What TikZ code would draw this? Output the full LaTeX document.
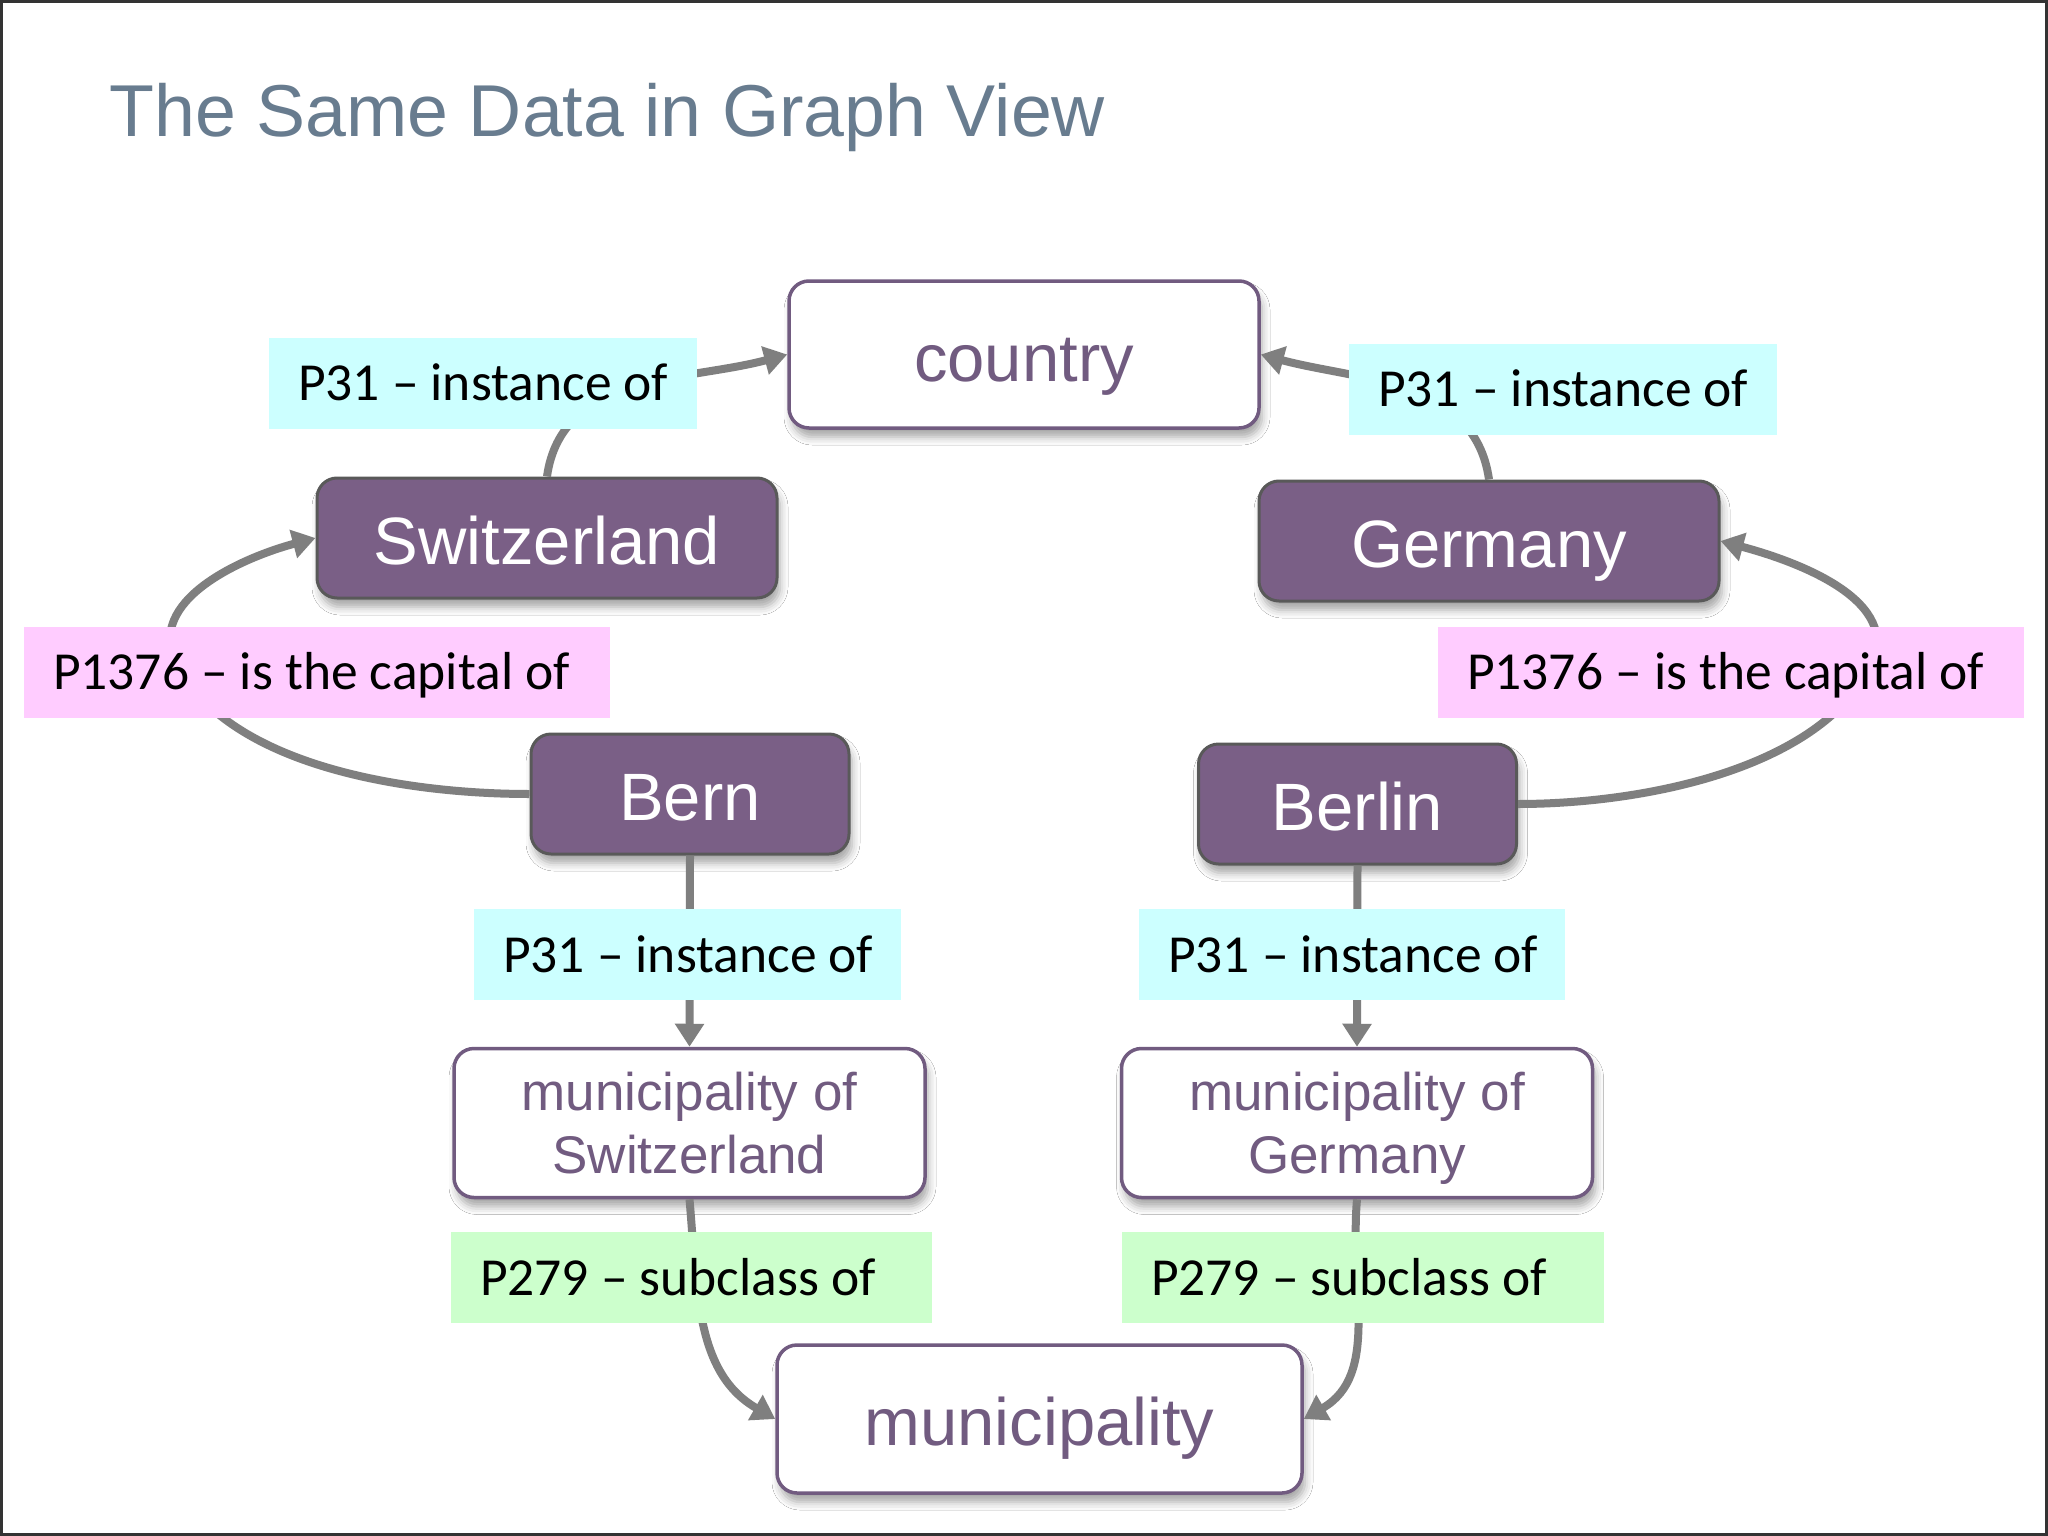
\documentclass[tikz,border=0pt]{standalone}
\usepackage{fontspec}
\setmainfont{Liberation Sans}
\newfontfamily\lblfont{Carlito}
\usetikzlibrary{arrows.meta,shadows,shadows.blur}

\definecolor{nodepurple}{HTML}{7A5F86}
\definecolor{textpurple}{HTML}{715B80}
\definecolor{arrowgray}{HTML}{7F7F7F}
\definecolor{titleslate}{HTML}{687C8F}
\definecolor{p31cyan}{HTML}{CCFFFF}
\definecolor{capitalpink}{HTML}{FFCCFF}
\definecolor{subgreen}{HTML}{CCFFCC}

% label text, left aligned in a box of given width
\newcommand\lbltext[2]{\makebox[#1][l]{\hspace{29pt}#2}}

\tikzset{
  itembox/.style={rounded corners=20pt, inner sep=0pt, align=center,
    blur shadow={shadow xshift=3pt, shadow yshift=-9pt, shadow blur radius=8pt, shadow opacity=35}},
  oneline/.style={text height=53pt, text depth=0pt},
  purplebox/.style={itembox, oneline, fill=nodepurple, draw=black!65, line width=3pt,
    text=white, font=\fontsize{67}{80}\selectfont},
  whitebox/.style={itembox, fill=white, draw=textpurple, line width=3.5pt,
    text=textpurple, font=\fontsize{67}{80}\selectfont},
  twoline/.style={font=\fontsize{53}{63}\selectfont},
  lbl/.style={inner sep=0pt, minimum height=91pt, text height=35pt, text depth=0pt,
    text=black, font=\lblfont\fontsize{53.5}{64}\selectfont},
  conn/.style={draw=arrowgray, line width=8pt, -{Triangle[length=23pt,width=28pt]}}
}

\begin{document}
\begin{tikzpicture}[x=1pt,y=1pt]
  \useasboundingbox (0,0) rectangle (2048,-1536);
  \fill[white] (0,0) rectangle (2048,-1536);
  \draw[black!80, line width=3pt] (1.5,-1.5) rectangle (2046.5,-1534.5);

  \node[anchor=base west, text=titleslate, font=\fontsize{73.5}{88}\selectfont]
    (title) at (106,-137) {The Same Data in Graph View};

  % items
  \node[whitebox, oneline, minimum width=470pt, minimum height=147pt] (country) at (1024,-354.5) {country};
  \node[purplebox, minimum width=460pt, minimum height=120pt] (sw) at (547,-538) {Switzerland};
  \node[purplebox, minimum width=460pt, minimum height=120pt] (de) at (1489,-541) {Germany};
  \node[purplebox, minimum width=318pt, minimum height=120pt] (bern) at (690,-794) {Bern};
  \node[purplebox, minimum width=318pt, minimum height=120pt] (berlin) at (1357.5,-804) {Berlin};
  \node[whitebox, twoline, minimum width=471pt, minimum height=149pt] (munsw) at (689.5,-1123)
    {municipality of\\Switzerland};
  \node[whitebox, twoline, minimum width=471pt, minimum height=149pt] (munde) at (1357,-1123)
    {municipality of\\\smash{Germany}};
  \node[whitebox, oneline, minimum width=525pt, minimum height=148pt] (mun) at (1039.5,-1419) {municipality};

  % statements
  \coordinate (capsw) at (177,-665);
  \coordinate (capde) at (1870,-668);
  \draw[conn] (sw.north) to[out=82, in=195] (country.west);
  \draw[conn] (de.north) to[out=98, in=-15] (country.east);
  \draw[conn] (bern.west) to[out=180, in=-62, looseness=0.8] (capsw)
    to[out=118, in=195] (sw.west);
  \draw[conn] (berlin.east) to[out=0, in=-118, looseness=0.8] (capde)
    to[out=62, in=-15] (de.east);
  \draw[conn] (bern.south) -- (munsw.north);
  \draw[conn] (berlin.south) -- (munde.north);
  \draw[conn] (munsw.south) to[out=-85, in=150] (mun.west);
  \draw[conn] (munde.south) to[out=-95, in=30] (mun.east);

  % property labels
  \node[lbl, fill=p31cyan] (l31sw) at (483,-383) {\lbltext{428pt}{P31 \textendash\ instance of}};
  \node[lbl, fill=p31cyan] (l31de) at (1563,-389) {\lbltext{428pt}{P31 \textendash\ instance of}};
  \node[lbl, fill=capitalpink] (lcapsw) at (317,-672) {\lbltext{586pt}{P1376 \textendash\ is the capital of}};
  \node[lbl, fill=capitalpink] (lcapde) at (1731,-672) {\lbltext{586pt}{P1376 \textendash\ is the capital of}};
  \node[lbl, fill=p31cyan] (l31bern) at (687.5,-954.5) {\lbltext{427pt}{P31 \textendash\ instance of}};
  \node[lbl, fill=p31cyan] (l31berlin) at (1352,-954.5) {\lbltext{426pt}{P31 \textendash\ instance of}};
  \node[lbl, fill=subgreen] (l279sw) at (691.5,-1277.5) {\lbltext{481pt}{P279 \textendash\ subclass of}};
  \node[lbl, fill=subgreen] (l279de) at (1363,-1277.5) {\lbltext{482pt}{P279 \textendash\ subclass of}};
\end{tikzpicture}
\end{document}
